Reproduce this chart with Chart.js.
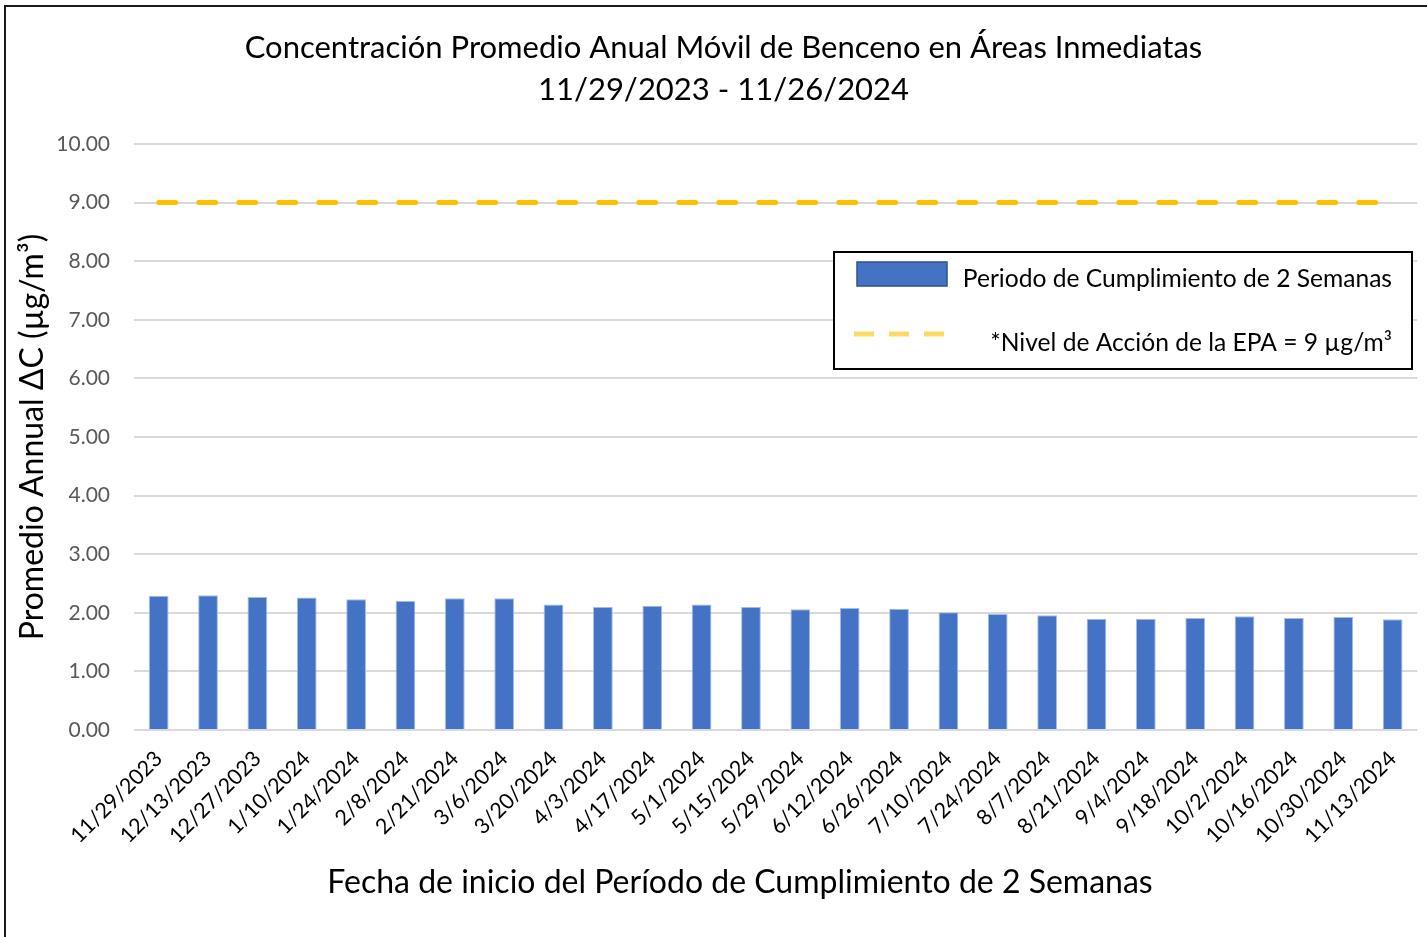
<!DOCTYPE html>
<html>
<head>
<meta charset="utf-8">
<script src="https://cdn.jsdelivr.net/npm/chart.js@4/dist/chart.umd.min.js"></script>
<style>
  html, body { margin: 0; padding: 0; background: #ffffff; }
  #wrap { width: 1427px; height: 937px; }
</style>
</head>
<body>
<div id="wrap"><canvas id="c" width="1427" height="937"></canvas></div>
<script>
const titleLines = [
  "Concentración Promedio Anual Móvil de Benceno en Áreas Inmediatas",
  "11/29/2023 - 11/26/2024"
];
const yAxisTitle = "Promedio Annual ΔC (µg/m³)";
const xAxisTitle = "Fecha de inicio del Período de Cumplimiento de 2 Semanas";
const barSeriesName = "Periodo de Cumplimiento de 2 Semanas";
const lineSeriesName = "*Nivel de Acción de la EPA = 9 µg/m³";

const categories = [
  "11/29/2023", "12/13/2023", "12/27/2023", "1/10/2024", "1/24/2024", "2/8/2024",
  "2/21/2024", "3/6/2024", "3/20/2024", "4/3/2024", "4/17/2024", "5/1/2024",
  "5/15/2024", "5/29/2024", "6/12/2024", "6/26/2024", "7/10/2024", "7/24/2024",
  "8/7/2024", "8/21/2024", "9/4/2024", "9/18/2024", "10/2/2024", "10/16/2024",
  "10/30/2024", "11/13/2024"
];
const annualAverage = [
  2.29, 2.30, 2.27, 2.26, 2.23, 2.20, 2.25, 2.25, 2.14, 2.10, 2.12, 2.14, 2.10,
  2.06, 2.08, 2.07, 2.01, 1.98, 1.96, 1.90, 1.90, 1.91, 1.94, 1.91, 1.93, 1.89
];
const actionLevel = [
  9, 9, 9, 9, 9, 9, 9, 9, 9, 9, 9, 9, 9,
  9, 9, 9, 9, 9, 9, 9, 9, 9, 9, 9, 9, 9
];
const yMin = 0, yMax = 10, yStep = 1;

const FONT = "Lato, Carlito, 'Open Sans', sans-serif";

const framePlugin = {
  id: 'frame',
  beforeDraw(chart) {
    const ctx = chart.ctx;
    ctx.save();
    ctx.fillStyle = '#ffffff';
    ctx.fillRect(0, 0, chart.width, chart.height);
    ctx.restore();
  },
  afterDraw(chart) {
    const ctx = chart.ctx;
    ctx.save();
    // x axis title, centred under the whole chart object as in the original
    ctx.fillStyle = '#000000';
    ctx.font = "32px " + FONT;
    ctx.textAlign = 'center';
    ctx.textBaseline = 'middle';
    ctx.fillText(xAxisTitle, 740, 883);
    // outer frame
    ctx.strokeStyle = '#1a1a1a';
    ctx.lineWidth = 2;
    ctx.strokeRect(5, 6, chart.width + 20, chart.height + 20);
    ctx.restore();
  }
};

const legendPlugin = {
  id: 'customLegend',
  afterDatasetsDraw(chart) {
    const ctx = chart.ctx;
    ctx.save();
    ctx.fillStyle = '#ffffff';
    ctx.fillRect(834, 252, 578, 117);
    ctx.strokeStyle = '#000000';
    ctx.lineWidth = 2;
    ctx.strokeRect(834, 252, 578, 117);
    ctx.fillStyle = '#4472C4';
    ctx.fillRect(857, 262, 90, 24);
    ctx.strokeStyle = '#2F528F';
    ctx.lineWidth = 1.5;
    ctx.strokeRect(857, 262, 90, 24);
    ctx.strokeStyle = '#FFD966';
    ctx.lineWidth = 5;
    ctx.setLineDash([20, 15]);
    ctx.beginPath();
    ctx.moveTo(854, 334);
    ctx.lineTo(946, 334);
    ctx.stroke();
    ctx.setLineDash([]);
    ctx.fillStyle = '#000000';
    ctx.font = "24.6px " + FONT;
    ctx.textAlign = 'right';
    ctx.textBaseline = 'middle';
    ctx.fillText(chart.data.datasets[0].label, 1392, 279);
    ctx.fillText(chart.data.datasets[1].label, 1392, 343);
    ctx.restore();
  }
};

new Chart(document.getElementById('c'), {
  type: 'bar',
  data: {
    labels: categories,
    datasets: [
      {
        type: 'bar',
        label: barSeriesName,
        data: annualAverage,
        backgroundColor: '#4472C4',
        borderColor: '#A4BDE8',
        borderWidth: 1,
        barPercentage: 0.4,
        categoryPercentage: 1.0,
        order: 2
      },
      {
        type: 'line',
        label: lineSeriesName,
        data: actionLevel,
        borderColor: '#FFC000',
        borderWidth: 5,
        borderDash: [17, 23],
        borderCapStyle: 'round',
        pointRadius: 0,
        fill: false,
        order: 1
      }
    ]
  },
  options: {
    responsive: false,
    animation: false,
    devicePixelRatio: 1,
    layout: { padding: { left: 27, right: 7, top: 6, bottom: 30 } },
    plugins: {
      legend: { display: false },
      tooltip: { enabled: false },
      title: {
        display: true,
        text: titleLines,
        color: '#000000',
        font: { family: FONT, size: 31, weight: 'normal', lineHeight: 1.355 },
        padding: { top: 21, bottom: 33 }
      }
    },
    scales: {
      x: {
        grid: { display: false, drawTicks: false },
        border: { display: false },
        ticks: {
          color: '#000000',
          font: { family: FONT, size: 21.5 },
          minRotation: 45,
          maxRotation: 45,
          autoSkip: false,
          padding: 16
        },
        title: { display: false, text: xAxisTitle },
        afterFit(s) { s.height = 177; }
      },
      y: {
        min: yMin,
        max: yMax,
        grid: { color: '#D9D9D9', lineWidth: 2, drawTicks: false },
        border: { display: false },
        ticks: {
          stepSize: yStep,
          color: '#595959',
          font: { family: FONT, size: 21 },
          padding: 24,
          callback: v => Number(v).toFixed(2)
        },
        title: {
          display: true,
          text: yAxisTitle,
          color: '#000000',
          font: { family: FONT, size: 32, lineHeight: 1.2 },
          padding: { top: -14, bottom: 0 }
        },
        afterFit(s) { s.width = 107; }
      }
    }
  },
  plugins: [framePlugin, legendPlugin]
});
</script>
</body>
</html>
